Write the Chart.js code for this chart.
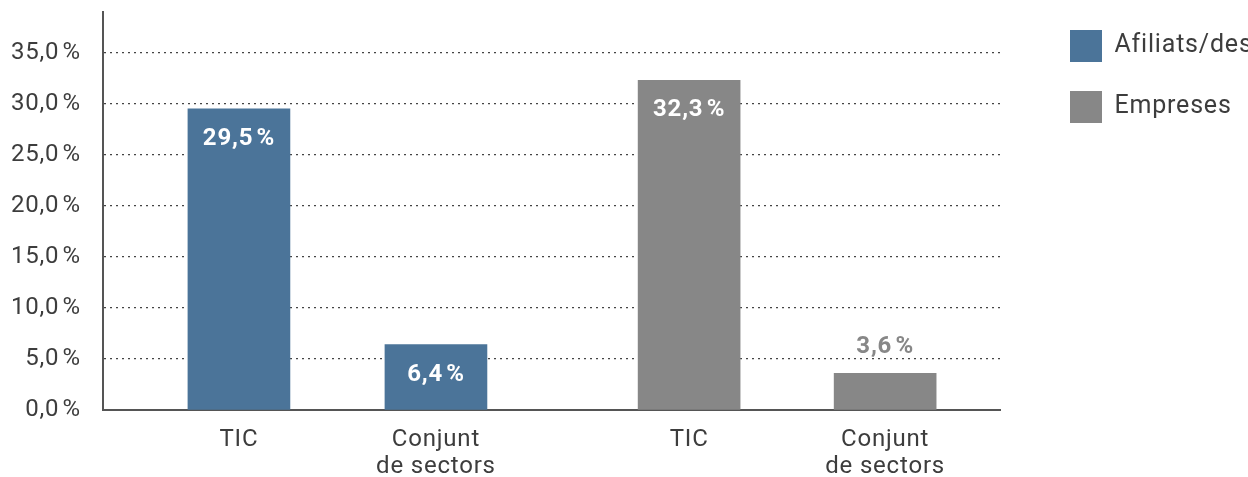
<!DOCTYPE html>
<html lang="ca">
<head>
<meta charset="utf-8">
<script src="https://cdn.jsdelivr.net/npm/chart.js@4.4.1/dist/chart.umd.min.js"></script>
<style>
html, body { margin: 0; padding: 0; background: #fff; }
#wrap { width: 1248px; height: 477px; }
</style>
</head>
<body>
<div id="wrap"><canvas id="chart" width="1248" height="477"></canvas></div>
<script>
// Données du graphique
const seriesNames = ['Afiliats/des', 'Empreses'];
const categories = [['TIC'], ['Conjunt', 'de sectors'], ['TIC'], ['Conjunt', 'de sectors']];
const afiliats = [29.5, 6.4];
const empreses = [32.3, 3.6];
const yTicks = [0, 5, 10, 15, 20, 25, 30, 35];

const colors = ['#4b7499', '#878787'];
const textColor = '#3d3d3d';
const fontFamily = 'Roboto, "Noto Sans", sans-serif';
// position de chaque barre sur l'axe x (écart plus large entre les deux groupes)
const slots = [0.69, 1.69, 2.975, 3.97];

const fmt = v => v.toFixed(1).replace('.', ',') + '\u200A%';

// Largeur fixe de la légende + décalage pour coller au modèle
const layoutFix = {
    id: 'layoutFix',
    beforeLayout(chart) {
        const lg = chart.legend;
        if (lg && !lg._patched) {
            const fit = lg.fit;
            lg.fit = function () { fit.call(this); this.width = 248; };
            lg._patched = true;
        }
    },
    afterLayout(chart) {
        chart.legend.left += 41;
        chart.legend.top -= 11;
    },
    beforeDraw(chart) {
        // un peu d'interlettrage (et pas de ligature "fi")
        chart.ctx.letterSpacing = '0.8px';
    }
};

// Étiquettes de valeur sur les barres
const valueLabels = {
    id: 'valueLabels',
    afterDatasetsDraw(chart) {
        const ctx = chart.ctx;
        ctx.save();
        ctx.font = 'bold 24px ' + fontFamily;
        ctx.textAlign = 'center';
        ctx.textBaseline = 'middle';
        chart.data.datasets.forEach((ds, di) => {
            chart.getDatasetMeta(di).data.forEach((bar, i) => {
                const v = ds.data[i].y;
                if (bar.base - bar.y > 45) {
                    ctx.fillStyle = '#fff';
                    ctx.fillText(fmt(v), bar.x, bar.y + 30);
                } else {
                    ctx.fillStyle = ds.backgroundColor;
                    ctx.fillText(fmt(v), bar.x, bar.y - 26);
                }
            });
        });
        ctx.restore();
    }
};

const chart = new Chart(document.getElementById('chart'), {
    type: 'bar',
    data: {
        datasets: [{
            label: seriesNames[0],
            data: afiliats.map((v, i) => ({ x: slots[i], y: v })),
            backgroundColor: colors[0],
            borderWidth: 0
        }, {
            label: seriesNames[1],
            data: empreses.map((v, i) => ({ x: slots[i + 2], y: v })),
            backgroundColor: colors[1],
            borderWidth: 0
        }]
    },
    options: {
        responsive: false,
        animation: false,
        layout: { padding: { top: 12, left: 0, right: 0, bottom: 0 } },
        datasets: { bar: { grouped: false, barThickness: 102 } },
        scales: {
            x: {
                type: 'linear',
                offset: false,
                min: 0,
                max: 4.553,
                afterBuildTicks: s => { s.ticks = slots.map(v => ({ value: v })); },
                afterFit: s => { s.height = 67; s.paddingLeft = 0; s.paddingRight = 0; },
                grid: { display: false, offset: false },
                border: { display: true, color: '#555', width: 2 },
                ticks: {
                    autoSkip: false,
                    maxRotation: 0,
                    padding: 8,
                    color: textColor,
                    font: { family: fontFamily, size: 24, lineHeight: 1.15 },
                    callback: (v, i) => categories[i]
                }
            },
            y: {
                min: 0,
                max: 39,
                afterBuildTicks: s => { s.ticks = yTicks.map(v => ({ value: v })); },
                afterFit: s => { s.width = 103; s.paddingTop = 0; s.paddingBottom = 0; },
                grid: {
                    drawTicks: false,
                    lineWidth: 1.3,
                    color: c => (c.tick && c.tick.value === 0) ? 'rgba(0,0,0,0)' : '#444'
                },
                border: { display: true, color: '#555', width: 2, dash: [2, 4] },
                ticks: {
                    padding: 22,
                    color: textColor,
                    font: { family: fontFamily, size: 24 },
                    callback: v => fmt(v)
                }
            }
        },
        plugins: {
            legend: {
                position: 'right',
                align: 'start',
                labels: {
                    boxWidth: 32,
                    boxHeight: 32,
                    padding: 29,
                    color: textColor,
                    font: { family: fontFamily, size: 25 }
                }
            },
            tooltip: { enabled: false }
        }
    },
    plugins: [layoutFix, valueLabels]
});
</script>
</body>
</html>
